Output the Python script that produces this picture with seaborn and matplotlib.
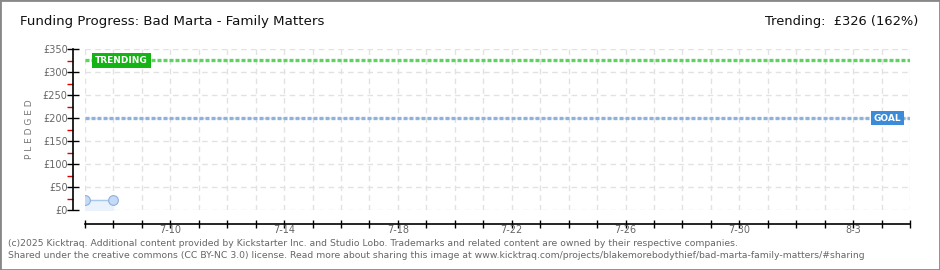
import matplotlib
matplotlib.use("Agg")
import matplotlib.pyplot as plt
import matplotlib.dates as mdates
from matplotlib.ticker import MultipleLocator, FuncFormatter
from matplotlib.patches import Rectangle
import seaborn as sns
import pandas as pd
import numpy as np

# ---- data ----
dates = ["2025-07-07", "2025-07-08"]
pledged = [21, 21]
goal = 200
trending = 326
trend_pct = 162
x_start = "2025-07-07"
x_end = "2025-08-05"
label_dates = ["2025-07-10", "2025-07-14", "2025-07-18", "2025-07-22",
               "2025-07-26", "2025-07-30", "2025-08-03"]
title = "Funding Progress: Bad Marta - Family Matters"
footer1 = ("(c)2025 Kicktraq. Additional content provided by Kickstarter Inc. and Studio Lobo. "
           "Trademarks and related content are owned by their respective companies.")
footer2 = ("Shared under the creative commons (CC BY-NC 3.0) license. Read more about sharing this image at "
           "www.kicktraq.com/projects/blakemorebodythief/bad-marta-family-matters/#sharing")

df = pd.DataFrame({"date": pd.to_datetime(dates), "pledged": pledged})

sns.set_style("white")
plt.rcParams["font.family"] = ["DejaVu Sans"]

fig = plt.figure(figsize=(9.4, 2.7), dpi=100)
fig.patch.set_facecolor("white")
ax = fig.add_axes([85 / 940, 1 - 210 / 270, 825 / 940, 160.7 / 270])

xs, xe = pd.Timestamp(x_start), pd.Timestamp(x_end)
ax.set_xlim(xs, xe)
ax.set_ylim(0, 350)

# grid
ax.set_axisbelow(True)
ax.yaxis.set_major_locator(MultipleLocator(50))
ax.yaxis.set_minor_locator(MultipleLocator(25))
ax.grid(True, which="major", color="#e2e2e2", linestyle=(0, (4, 3)), linewidth=1)

# goal and trending lines
ax.axhline(goal, color="#8fb2dd", linewidth=2.4, linestyle=(0, (1.2, 0.6)), zorder=2)
ax.axhline(trending, color="#5fd35f", linewidth=2.4, linestyle=(0, (1.2, 0.6)), zorder=2)

# data
ax.fill_between(df["date"], 0, df["pledged"], color="#eaf2fc", zorder=2)
sns.lineplot(data=df, x="date", y="pledged", ax=ax, color="#a9c8ee", linewidth=1,
             marker="o", markersize=7, markerfacecolor="#c4daf6",
             markeredgecolor="#8fb0da", markeredgewidth=0.8, zorder=3)
ax.set_xlabel("")
ax.set_ylabel("P L E D G E D", color="#777777", fontsize=6.5, labelpad=6)

# spines
for s in ["top", "right"]:
    ax.spines[s].set_visible(False)
ax.spines["left"].set_position(("outward", 9))
ax.spines["bottom"].set_position(("outward", 10))
ax.spines["left"].set_color("black")
ax.spines["bottom"].set_color("black")
ax.spines["left"].set_linewidth(1.2)
ax.spines["bottom"].set_linewidth(1.2)

ax.yaxis.set_major_formatter(FuncFormatter(lambda v, p: f"£{int(v)}"))
ax.tick_params(axis="y", which="major", direction="inout", length=8, width=1,
               color="black", labelsize=7, labelcolor="#666666", pad=-0.5, left=True)
ax.tick_params(axis="y", which="minor", direction="out", length=4, width=1,
               color="#dd0000", left=True)

# x ticks: every day, labels on select days
lab_ts = set(pd.to_datetime(label_dates))
days = pd.date_range(xs, xe, freq="D")
ax.set_xticks(days)
ax.set_xticklabels([f"{d.month}-{d.day}" if d in lab_ts else "" for d in days])
ax.tick_params(axis="x", which="major", direction="inout", length=6, width=1,
               color="black", labelsize=7, labelcolor="#666666", pad=-2.5, bottom=True)

# labels on lines
ax.text(pd.Timestamp("2025-07-07") + pd.Timedelta(hours=8.5), trending, "TRENDING",
        color="white", fontsize=6.5, fontweight="bold", va="center", ha="left",
        bbox=dict(boxstyle="square,pad=0.3", fc="#13b413", ec="none"), zorder=5)
ax.text(pd.Timestamp("2025-08-03") + pd.Timedelta(hours=17), goal, "GOAL",
        color="white", fontsize=6.5, fontweight="bold", va="center", ha="left",
        bbox=dict(boxstyle="square,pad=0.3", fc="#3b8bd8", ec="none"), zorder=5)

# titles
fig.text(20 / 940, 1 - 22 / 270, title, fontsize=9.6, color="#111111", va="center", ha="left")
fig.text(918 / 940, 1 - 22 / 270, f"Trending:  £{trending} ({trend_pct}%)", fontsize=9.4,
         color="#111111", va="center", ha="right")

# footer
fig.text(8 / 940, 1 - 243 / 270, footer1, fontsize=6.7, color="#666666", va="center", ha="left")
fig.text(8 / 940, 1 - 256 / 270, footer2, fontsize=6.7, color="#666666", va="center", ha="left")

# border
fig.add_artist(Rectangle((0, 0), 1, 1, transform=fig.transFigure, fill=False,
                         edgecolor="#888888", linewidth=2))

fig.savefig("out.png", dpi=100, facecolor="white")
